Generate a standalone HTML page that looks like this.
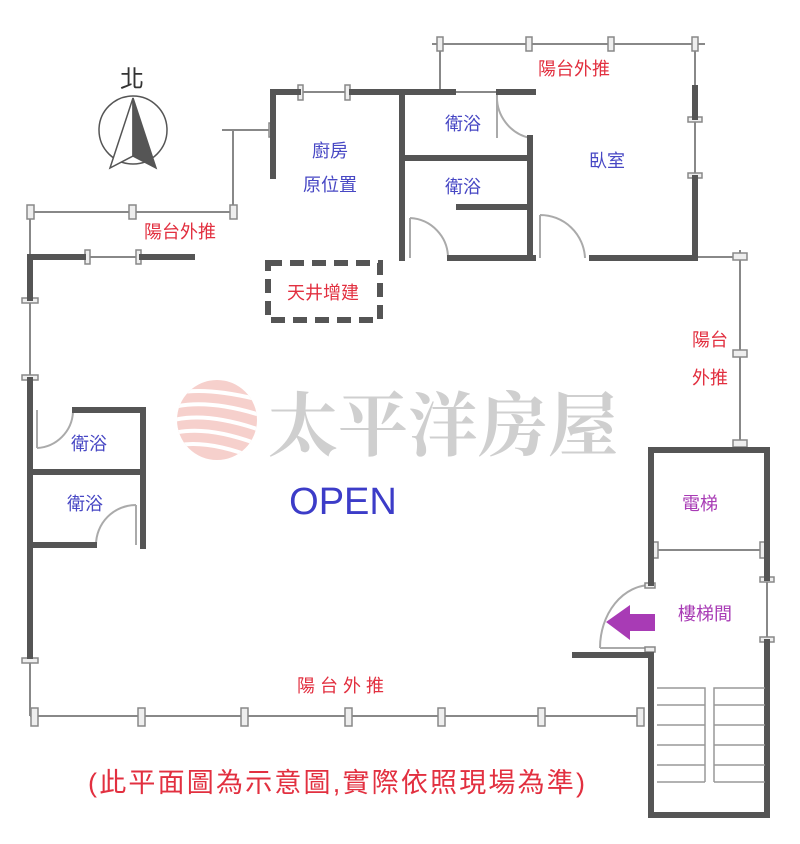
<!DOCTYPE html>
<html><head><meta charset="utf-8"><style>
html,body{margin:0;padding:0;background:#fff;}
svg{display:block;}
text{font-family:"Liberation Sans","Noto Sans CJK TC",sans-serif;}
</style></head><body>
<svg width="800" height="844" viewBox="0 0 800 844" xmlns="http://www.w3.org/2000/svg">
<defs><clipPath id="c"><circle cx="217" cy="420" r="40"/></clipPath></defs>
<circle cx="217" cy="420" r="40" fill="#f6d0cc"/>
<g clip-path="url(#c)" stroke="#fff" stroke-width="4" fill="none">
<path d="M170 395 Q200 385 260 400"/><path d="M170 408 Q205 398 260 415"/><path d="M170 421 Q205 411 260 430"/><path d="M170 434 Q205 424 260 445"/><path d="M170 447 Q205 437 260 460"/>
</g>
<text x="268" y="450" font-size="70" font-weight="bold" fill="#cfcfcf" style="font-family:'Noto Serif CJK SC',serif">太平洋房屋</text>

<g fill="none" stroke="#888" stroke-width="2">
<line x1="30" y1="212" x2="237" y2="212"/>
<line x1="233" y1="130" x2="233" y2="212"/>
<line x1="222" y1="130" x2="272" y2="130"/>
<line x1="30" y1="212" x2="30" y2="257"/>
<line x1="432" y1="44" x2="705" y2="44"/>
<line x1="440" y1="44" x2="440" y2="90"/>
<line x1="695" y1="44" x2="695" y2="88"/>
<line x1="698" y1="257" x2="740" y2="257"/>
<line x1="740" y1="250" x2="740" y2="445"/>
<line x1="30" y1="716" x2="640" y2="716"/>
<line x1="30" y1="660" x2="30" y2="716"/>
<line x1="30" y1="300" x2="30" y2="378"/>
<line x1="695" y1="120" x2="695" y2="175"/>
<line x1="300" y1="92" x2="350" y2="92"/>
<line x1="455" y1="92" x2="497" y2="92"/>
<line x1="85" y1="257" x2="140" y2="257"/>
<line x1="767" y1="580" x2="767" y2="640"/>
<line x1="655" y1="550" x2="762" y2="550"/>
<path d="M497 95 L497 138 M497 95 A42 42 0 0 0 530 138" stroke="#aaa"/>
<path d="M410 218 L410 258 M410 218 A40 40 0 0 1 448 258" stroke="#aaa"/>
<path d="M540 215 L540 258 M540 215 A45 45 0 0 1 585 258" stroke="#aaa"/>
<path d="M37 410 L37 448 M37 448 A38 38 0 0 0 73 412" stroke="#aaa"/>
<path d="M136 505 L136 545 M136 505 A40 40 0 0 0 96 545" stroke="#aaa"/>
<path d="M600 648 L651 648 M600 648 A51 63 0 0 1 651 585" stroke="#aaa"/>
</g>
<g fill="#eee" stroke="#888" stroke-width="1.5">
<rect x="27" y="205" width="7" height="14"/><rect x="129" y="205" width="7" height="14"/><rect x="230" y="205" width="7" height="14"/>
<rect x="298" y="85" width="5" height="15"/><rect x="345" y="85" width="5" height="15"/>
<rect x="85" y="250" width="5" height="14"/><rect x="136" y="250" width="5" height="14"/>
<rect x="437" y="37" width="6" height="14"/><rect x="526" y="37" width="6" height="14"/><rect x="608" y="37" width="6" height="14"/><rect x="692" y="37" width="6" height="14"/>
<rect x="688" y="117" width="14" height="5"/><rect x="688" y="173" width="14" height="5"/>
<rect x="733" y="253" width="14" height="7"/><rect x="733" y="350" width="14" height="7"/><rect x="733" y="440" width="14" height="7"/>
<rect x="22" y="298" width="16" height="5"/><rect x="22" y="375" width="16" height="5"/><rect x="22" y="658" width="16" height="5"/>
<rect x="31" y="708" width="7" height="18"/><rect x="138" y="708" width="7" height="18"/><rect x="241" y="708" width="7" height="18"/><rect x="345" y="708" width="7" height="18"/><rect x="438" y="708" width="7" height="18"/><rect x="538" y="708" width="7" height="18"/><rect x="637" y="708" width="7" height="18"/>
<rect x="652" y="542" width="6" height="16"/><rect x="760" y="542" width="6" height="16"/>
<rect x="760" y="577" width="14" height="5"/><rect x="760" y="637" width="14" height="5"/>
<rect x="645" y="583" width="10" height="5"/><rect x="645" y="647" width="10" height="5"/>
<rect x="269" y="123" width="5" height="14"/>
</g>
<g stroke="#555" stroke-width="6" fill="none" stroke-linecap="square">
<path d="M273 176 L273 92 L298 92"/>
<line x1="352" y1="92" x2="453" y2="92"/>
<line x1="499" y1="92" x2="533" y2="92"/>
<line x1="402" y1="92" x2="402" y2="258"/>
<line x1="402" y1="158" x2="530" y2="158"/>
<line x1="530" y1="138" x2="530" y2="258"/>
<line x1="459" y1="207" x2="530" y2="207"/>
<line x1="450" y1="258" x2="533" y2="258"/>
<path d="M592 258 L695 258 L695 178"/>
<line x1="695" y1="88" x2="695" y2="117"/>
<path d="M192 257 L142 257 M83 257 L30 257 L30 298"/>
<line x1="30" y1="380" x2="30" y2="656"/>
<path d="M75 410 L143 410 L143 546"/>
<line x1="30" y1="472" x2="143" y2="472"/>
<line x1="30" y1="545" x2="94" y2="545"/>
<path d="M651 583 L651 450 L767 450 L767 578"/>
<path d="M767 642 L767 815 L651 815 L651 655 L575 655"/>
</g>
<rect x="268" y="263" width="112" height="57" fill="none" stroke="#555" stroke-width="6" stroke-dasharray="14,8"/>
<g fill="none" stroke="#999" stroke-width="1.5">
<path d="M657 688 H705 V782 M657 705 H705 M657 725 H705 M657 745 H705 M657 765 H705 M657 782 H705"/>
<path d="M714 782 V688 H765 M714 705 H765 M714 725 H765 M714 745 H765 M714 765 H765 M714 782 H765"/>
</g>
<polygon points="606,622 630,605 630,614 655,614 655,631 630,631 630,640" fill="#a83bb5"/>
<circle cx="133" cy="130" r="34" fill="none" stroke="#555" stroke-width="1.5"/>
<polygon points="133,98 110,168 133,156" fill="#fff" stroke="#555" stroke-width="1.5"/>
<polygon points="133,98 156,168 133,156" fill="#555" stroke="#555" stroke-width="1.5"/>
<text x="132" y="87" font-size="24" fill="#333" text-anchor="middle">北</text>
<g font-size="18" fill="#4747c4" text-anchor="middle">
<text x="330" y="157">廚房</text><text x="330" y="191">原位置</text>
<text x="463" y="130">衛浴</text><text x="463" y="193">衛浴</text>
<text x="607" y="167">臥室</text>
<text x="89" y="450">衛浴</text><text x="85" y="510">衛浴</text>
</g>
<text x="343" y="514" font-size="38" fill="#3c3cc8" text-anchor="middle">OPEN</text>
<g font-size="18" fill="#e23040" text-anchor="middle">
<text x="180" y="238">陽台外推</text><text x="574" y="75">陽台外推</text>
<text x="710" y="346">陽台</text><text x="710" y="384">外推</text>
<text x="323" y="299">天井增建</text>
<text x="343" y="692" letter-spacing="5">陽台外推</text>
</g>
<g font-size="18" fill="#a83bb5" text-anchor="middle">
<text x="700" y="510">電梯</text><text x="705" y="620">樓梯間</text>
</g>
<text x="88" y="792" font-size="27" fill="#e23040" textLength="497" lengthAdjust="spacing">(此平面圖為示意圖,實際依照現場為準)</text>
</svg>
</body></html>
